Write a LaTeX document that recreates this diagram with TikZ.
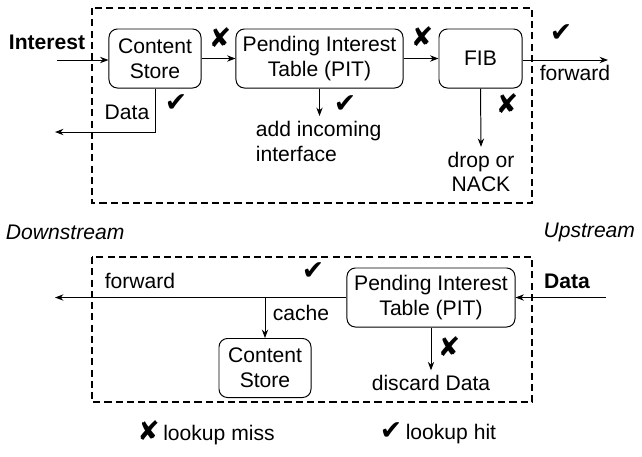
\documentclass[tikz,border=0pt]{standalone}
\usepackage{fontspec}
\setmainfont{Liberation Sans}
\newfontfamily\symfont{DejaVu Sans}
\usetikzlibrary{arrows.meta}
\tikzset{
  bloc/.style={draw, line width=0.7pt, rounded corners=6pt, align=center, inner sep=0pt, minimum height=1.475cm},
  fleche/.style={line width=0.7pt, -{Stealth[length=6pt,width=4.5pt]}},
  cadre/.style={line width=0.8pt, dash pattern=on 5pt off 3pt},
  marque/.style={font=\symfont\fontsize{19}{19}\selectfont},
}
\begin{document}
\begin{tikzpicture}[x=0.025cm, y=-0.025cm, font=\fontsize{15}{17.7}\selectfont]
\useasboundingbox (0,0) rectangle (642,456);
% cadres
\draw [cadre] (92,8) rectangle (532,203);
\draw [cadre] (92,257) rectangle (532,402);
% Interest : blocs du haut
\node [bloc, minimum width=2.3cm] (cs) at (155,58.5) {Content\\Store};
\node [bloc, minimum width=4.175cm] (pit) at (319.5,58.5) {Pending Interest\\Table (PIT)};
\node [bloc, minimum width=2.075cm] (fib) at (480.5,58.5) {FIB};
\coordinate (int) at (57,60);
\coordinate (dataout) at (55,132);
\coordinate (fwd) at (608,60);
\node [font=\bfseries\fontsize{15}{17.7}\selectfont] (intlabel) at (47,42) {Interest};
\draw [fleche] (int) -- (int -| cs.west);
\draw [fleche] (cs) -- (pit);
\draw [fleche] (pit) -- (fib);
\draw [fleche] (fib.east |- fwd) -- (fwd);
\draw [fleche] (cs.south) |- (dataout);
\node (datalabel) at (127,112) {Data};
\node [anchor=north west, align=left] (add) at (251,116) {add incoming\\interface};
\node [align=center] (drop) at (481,172) {drop or\\NACK};
\node (fwdlabel) at (575,73) {forward};
\draw [fleche] (pit.south) -- (pit.south |- add.north);
\draw [fleche] (fib.south) -- (drop.north);
% marques du haut
\node [marque] (x1) at (220,38) {✘};
\node [marque] (x2) at (422,37) {✘};
\node [marque] (x3) at (507,104) {✘};
\node [marque] (c1) at (176,103) {✔};
\node [marque] (c2) at (345,104) {✔};
\node [marque] (c3) at (561,33) {✔};
% sens
\node [anchor=west, font=\itshape\fontsize{15}{17.7}\selectfont] (down) at (1,232) {Downstream};
\node [anchor=east, font=\itshape\fontsize{15}{17.7}\selectfont] (up) at (640,232) {Upstream};
% Data : blocs du bas
\node [bloc, minimum width=4.2cm] (pit2) at (431,297.5) {Pending Interest\\Table (PIT)};
\node [bloc, minimum width=2.3cm] (cs2) at (265,368) {Content\\Store};
\coordinate (datain) at (606,297.5);
\coordinate (fwdout) at (55,297.5);
\coordinate (branch) at (265,297.5);
\node [font=\bfseries\fontsize{15}{17.7}\selectfont] (data2label) at (567,281) {Data};
\draw [fleche] (datain) -- (pit2);
\draw [fleche] (pit2.west) -- (fwdout);
\draw [fleche] (branch) -- (cs2.north);
\node (fwd2label) at (140,281) {forward};
\node (cachelabel) at (301,313) {cache};
\node (discard) at (431,383) {discard Data};
\draw [fleche] (pit2.south) -- (discard.north);
\node [marque] (c4) at (313,271) {✔};
\node [marque] (x4) at (449,347) {✘};
% legende
\node (miss) at (206,433) {{\symfont\fontsize{19}{19}\selectfont ✘}\,lookup miss};
\node (hit) at (438,433) {{\symfont\fontsize{19}{19}\selectfont ✔}\,lookup hit};
\end{tikzpicture}
\end{document}
